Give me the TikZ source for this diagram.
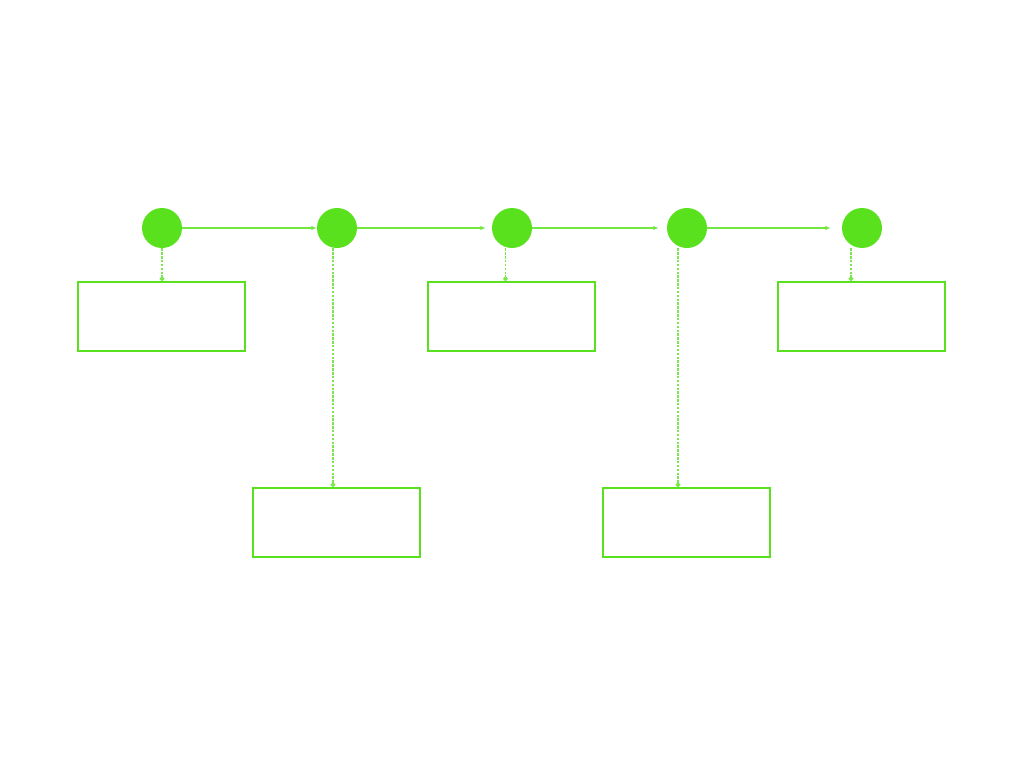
\documentclass[tikz,border=0pt]{standalone}
\usetikzlibrary{arrows.meta}
\definecolor{leaf}{RGB}{90,225,30}
\begin{document}
\begin{tikzpicture}[x=0.02cm, y=-0.02cm,
  dot/.style={circle, fill=leaf, draw=none, minimum size=0.8cm, inner sep=0pt},
  box/.style={rectangle, draw=leaf, line width=1.1pt, minimum width=3.34cm, minimum height=1.38cm, inner sep=0pt},
  flow/.style={draw=leaf!85, line width=0.8pt, -{Latex[length=3pt,width=2.5pt]}},
  dep/.style={draw=leaf!80, line width=0.7pt, dash pattern=on 1.4pt off 0.8pt, -{Circle[length=2.6pt]}}]
% Fix the page size
\useasboundingbox (0,0) rectangle (1024,768);

% Draw the circles
\foreach \i/\x in {1/162, 2/337, 3/512, 4/687, 5/862} {
  \node[dot] (c\i) at (\x,228) {};
}

% Draw the boxes
\node[box] (b1) at (161.5,316.5) {};
\node[box] (b2) at (336.5,522.5) {};
\node[box] (b3) at (511.5,316.5) {};
\node[box] (b4) at (686.5,522.5) {};
\node[box] (b5) at (861.5,316.5) {};

% Draw the arrows between the circles
\foreach \i/\j/\s in {1/2/0cm, 2/3/0.12cm, 3/4/0.16cm, 4/5/0.22cm} {
  \draw[flow, shorten >=\s] (c\i) -- (c\j);
}

% Draw the dashed arrows down to the boxes
\foreach \i/\d in {1/0cm, 2/-0.08cm, 3/-0.13cm, 4/-0.18cm, 5/-0.22cm} {
  \draw[dep] ([xshift=\d]c\i.south) -- ([xshift=\d]c\i.south |- b\i.north);
}
\end{tikzpicture}
\end{document}
